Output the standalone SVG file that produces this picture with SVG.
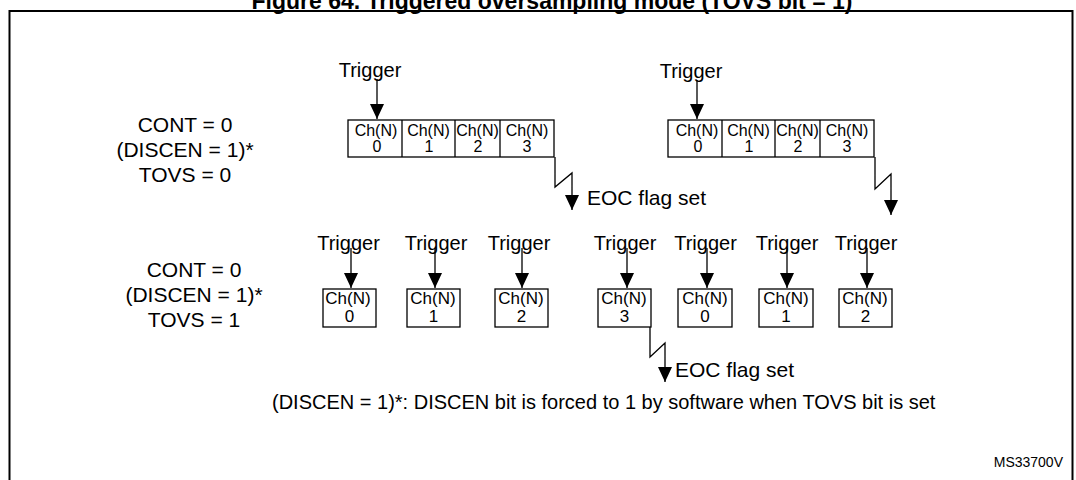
<svg xmlns="http://www.w3.org/2000/svg" width="1076" height="480" viewBox="0 0 1076 480">
<style>
text{font-family:"Liberation Sans",Arial,Helvetica,sans-serif;fill:#000}
.title{font-size:23px;font-weight:bold;text-anchor:middle}
.lbl{font-size:21px;text-anchor:middle}
.trg{font-size:20px;text-anchor:middle}
.ch1{font-size:16px;text-anchor:middle}
.ch2{font-size:17px;text-anchor:middle}
.eoc{font-size:21px}
.note{font-size:20px}
.id{font-size:14px;text-anchor:end}
.box{fill:#fff;stroke:#000;stroke-width:1.3}
.ln{fill:none;stroke:#000;stroke-width:1.3}
</style>
<defs>
<marker id="ah" markerUnits="userSpaceOnUse" markerWidth="16" markerHeight="14" viewBox="0 0 16 14" refX="15" refY="7" orient="auto">
<path d="M0,0 L15,7 L0,14 Z" fill="#000"/>
</marker>
</defs>
<rect width="1076" height="480" fill="#fff"/>
<text class="title" x="552" y="9">Figure 64. Triggered oversampling mode (TOVS bit = 1)</text>
<rect x="9.5" y="11" width="1063" height="480" fill="none" stroke="#000" stroke-width="2"/>

<g id="label-row1">
<text class="lbl" x="185" y="132">CONT = 0</text>
<text class="lbl" x="185" y="157">(DISCEN = 1)*</text>
<text class="lbl" x="185" y="182">TOVS = 0</text>
</g>
<g id="label-row2">
<text class="lbl" x="194" y="277">CONT = 0</text>
<text class="lbl" x="194" y="302">(DISCEN = 1)*</text>
<text class="lbl" x="194" y="327">TOVS = 1</text>
</g>

<g id="seq1">
<rect class="box" x="348" y="120" width="206" height="37"/>
<line class="ln" x1="402" y1="120" x2="402" y2="157"/>
<line class="ln" x1="455" y1="120" x2="455" y2="157"/>
<line class="ln" x1="500" y1="120" x2="500" y2="157"/>
<text class="ch1" x="376" y="136">Ch(N)</text><text class="ch1" x="377" y="152">0</text>
<text class="ch1" x="428.5" y="136">Ch(N)</text><text class="ch1" x="429" y="152">1</text>
<text class="ch1" x="477.5" y="136">Ch(N)</text><text class="ch1" x="478" y="152">2</text>
<text class="ch1" x="527" y="136">Ch(N)</text><text class="ch1" x="527" y="152">3</text>
</g>
<g id="seq2">
<rect class="box" x="668" y="120" width="206" height="37"/>
<line class="ln" x1="722" y1="120" x2="722" y2="157"/>
<line class="ln" x1="775" y1="120" x2="775" y2="157"/>
<line class="ln" x1="820" y1="120" x2="820" y2="157"/>
<text class="ch1" x="697" y="136">Ch(N)</text><text class="ch1" x="698" y="152">0</text>
<text class="ch1" x="748.5" y="136">Ch(N)</text><text class="ch1" x="749" y="152">1</text>
<text class="ch1" x="797.5" y="136">Ch(N)</text><text class="ch1" x="798" y="152">2</text>
<text class="ch1" x="847" y="136">Ch(N)</text><text class="ch1" x="847" y="152">3</text>
</g>

<g id="row2-boxes">
<g id="b0"><rect class="box" x="323" y="289" width="53" height="38"/><text class="ch2" x="348" y="304">Ch(N)</text><text class="ch2" x="349.5" y="322">0</text></g>
<g id="b1"><rect class="box" x="407" y="289" width="53" height="38"/><text class="ch2" x="433" y="304">Ch(N)</text><text class="ch2" x="433.5" y="322">1</text></g>
<g id="b2"><rect class="box" x="495" y="289" width="53" height="38"/><text class="ch2" x="521" y="304">Ch(N)</text><text class="ch2" x="521.5" y="322">2</text></g>
<g id="b3"><rect class="box" x="598" y="289" width="53" height="38"/><text class="ch2" x="624" y="304">Ch(N)</text><text class="ch2" x="624.5" y="322">3</text></g>
<g id="b4"><rect class="box" x="678" y="289" width="54" height="38"/><text class="ch2" x="705" y="304">Ch(N)</text><text class="ch2" x="705" y="322">0</text></g>
<g id="b5"><rect class="box" x="759" y="289" width="54" height="38"/><text class="ch2" x="786" y="304">Ch(N)</text><text class="ch2" x="786" y="322">1</text></g>
<g id="b6"><rect class="box" x="839" y="289" width="53" height="38"/><text class="ch2" x="865" y="304">Ch(N)</text><text class="ch2" x="865.5" y="322">2</text></g>
</g>

<g id="triggers">
<text class="trg" x="370" y="77">Trigger</text>
<text class="trg" x="691" y="78">Trigger</text>
<text class="trg" x="348.5" y="250">Trigger</text>
<text class="trg" x="436" y="250">Trigger</text>
<text class="trg" x="519" y="250">Trigger</text>
<text class="trg" x="625" y="250">Trigger</text>
<text class="trg" x="705.5" y="250">Trigger</text>
<text class="trg" x="787" y="250">Trigger</text>
<text class="trg" x="866" y="250">Trigger</text>
</g>

<g id="eoc-labels">
<text class="eoc" x="587" y="205">EOC flag set</text>
<text class="eoc" x="675" y="377">EOC flag set</text>
</g>

<g id="connectors">
<line class="ln" x1="377" y1="79" x2="377" y2="119" marker-end="url(#ah)"/>
<line class="ln" x1="697" y1="80" x2="697" y2="119" marker-end="url(#ah)"/>
<line class="ln" x1="351" y1="248" x2="351" y2="288" marker-end="url(#ah)"/>
<line class="ln" x1="435" y1="248" x2="435" y2="288" marker-end="url(#ah)"/>
<line class="ln" x1="522" y1="248" x2="522" y2="288" marker-end="url(#ah)"/>
<line class="ln" x1="627" y1="248" x2="627" y2="288" marker-end="url(#ah)"/>
<line class="ln" x1="707" y1="248" x2="707" y2="288" marker-end="url(#ah)"/>
<line class="ln" x1="787" y1="248" x2="787" y2="288" marker-end="url(#ah)"/>
<line class="ln" x1="867" y1="248" x2="867" y2="288" marker-end="url(#ah)"/>
<path class="ln" d="M555,157 V187 L572,173 V210" marker-end="url(#ah)"/>
<path class="ln" d="M875,157 V189 L891,174 V215" marker-end="url(#ah)"/>
<path class="ln" d="M650,327 V357 L665,343 V382" marker-end="url(#ah)"/>
</g>

<text class="note" x="272" y="409">(DISCEN = 1)*: DISCEN bit is forced to 1 by software when TOVS bit is set</text>
<text class="id" x="1063" y="467">MS33700V</text>
</svg>
